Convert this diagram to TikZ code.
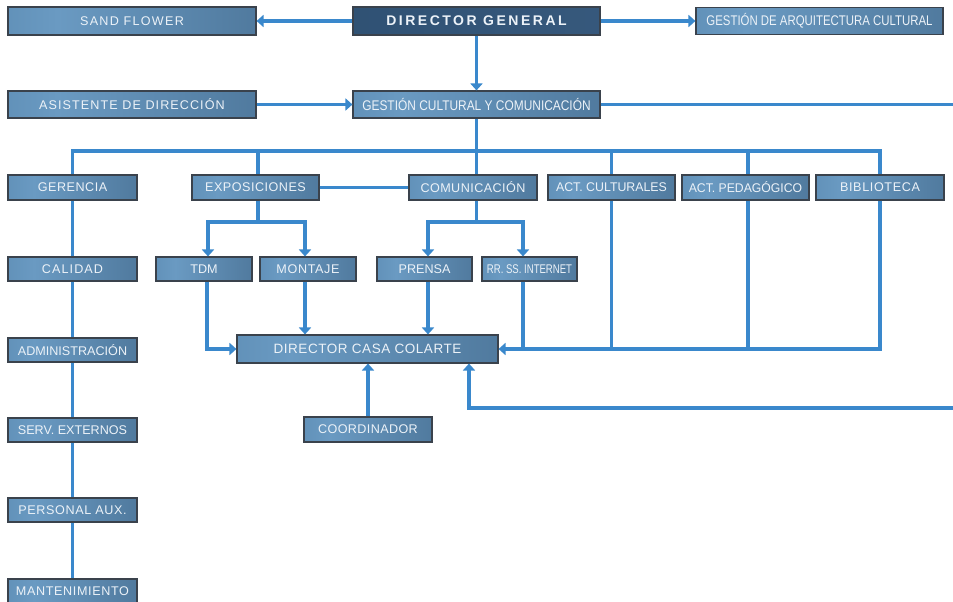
\documentclass[tikz,border=0pt]{standalone}
\usepackage{fontspec}
\setmainfont{Liberation Sans}
\newfontfamily\boxfont{Liberation Sans}
\usetikzlibrary{arrows.meta}

\definecolor{bxL}{RGB}{78,125,164}
\definecolor{bxM}{RGB}{106,154,194}
\definecolor{bxR}{RGB}{64,102,136}
\definecolor{dgL}{RGB}{44,78,112}
\definecolor{dgR}{RGB}{58,92,128}
\definecolor{bxborder}{RGB}{58,66,76}
\definecolor{bxtext}{RGB}{236,242,248}
\definecolor{conncol}{RGB}{58,136,204}

\pgfdeclarehorizontalshading{boxshade}{100bp}{color(0bp)=(bxL); color(35bp)=(bxM); color(100bp)=(bxR)}
\pgfdeclarehorizontalshading{dgshade}{100bp}{color(0bp)=(dgL); color(100bp)=(dgR)}

\tikzset{
  box/.style={draw=bxborder, line width=1.1pt, shading=boxshade, text=bxtext,
    inner sep=0pt, minimum height=25pt,
    font=\boxfont\fontsize{12.6}{14}\selectfont},
  trk/.style={font=\boxfont\addfontfeature{LetterSpace=#1}\fontsize{12.6}{14}\selectfont},
  sqz/.style={font=\boxfont\addfontfeature{FakeStretch=#1}\fontsize{12.6}{14}\selectfont},
  bigsqz/.style={font=\boxfont\addfontfeature{FakeStretch=#1}\fontsize{14}{16}\selectfont},
  topbox/.style={box, shading=dgshade,
    font=\boxfont\addfontfeature{LetterSpace=18}\fontsize{14}{16}\selectfont\bfseries},
  conn/.style={draw=conncol, line width=3.4pt},
  arr/.style={-{Triangle[width=12pt,length=7pt]}},
}

\begin{document}
\begin{tikzpicture}[x=1pt, y=-1pt]
\useasboundingbox (0,0) rectangle (953,602);
\fill[white] (0,0) rectangle (953,602);
\clip (0,0) rectangle (953,602);

% ---- boxes ----
\node[topbox, minimum width=247pt, minimum height=28pt] (dg)   at (476.5,21)  {DIRECTOR GENERAL};
\node[box, trk=10, minimum width=248pt, minimum height=28pt] (sand) at (132,21)  {SAND FLOWER};
\node[box, bigsqz=0.815, minimum width=247pt, minimum height=27pt] (gaq) at (819.5,21) {GESTIÓN DE ARQUITECTURA CULTURAL};
\node[box, trk=8.5, minimum width=248pt, minimum height=27pt] (asis) at (132,104.5) {ASISTENTE DE DIRECCIÓN};
\node[box, bigsqz=0.852, minimum width=247pt, minimum height=27pt] (gcc) at (476.5,104.5) {GESTIÓN CULTURAL Y COMUNICACIÓN};

\node[box, trk=4,   minimum width=129pt] (ger)  at (72.5,187.5)  {GERENCIA};
\node[box, trk=4,   minimum width=127pt] (expo) at (255.5,187.5) {EXPOSICIONES};
\node[box, trk=3.5, minimum width=128pt] (com)  at (473,187.5)   {COMUNICACIÓN};
\node[box, sqz=0.98, minimum width=127pt] (actc) at (611.5,187.5) {ACT. CULTURALES};
\node[box, sqz=0.97, minimum width=127pt] (actp) at (745.5,187.5) {ACT. PEDAGÓGICO};
\node[box, trk=5,   minimum width=128pt] (bib)  at (880,187.5)   {BIBLIOTECA};

\node[box, trk=8.5, minimum width=129pt, minimum height=24pt] (cal)  at (72.5,269) {CALIDAD};
\node[box, trk=0,   minimum width=96pt,  minimum height=24pt] (tdm)  at (204,269)  {TDM};
\node[box, trk=5,   minimum width=96pt,  minimum height=24pt] (mon)  at (308,269)  {MONTAJE};
\node[box, trk=0,   minimum width=95pt,  minimum height=24pt] (pre)  at (424.5,269) {PRENSA};
\node[box, sqz=0.76, minimum width=95pt, minimum height=24pt] (rrss) at (529.5,269) {RR. SS. INTERNET};

\node[box, trk=0, minimum width=129pt, minimum height=24pt] (adm)  at (72.5,350) {ADMINISTRACIÓN};
\node[box, trk=0, minimum width=129pt, minimum height=24pt] (serv) at (72.5,430) {SERV. EXTERNOS};
\node[box, trk=5, minimum width=129pt, minimum height=24pt] (pers) at (72.5,510) {PERSONAL AUX.};
\node[box, trk=5, minimum width=129pt, minimum height=24pt] (mant) at (72.5,591) {MANTENIMIENTO};

\node[box, font=\boxfont\addfontfeature{LetterSpace=4}\fontsize{13.5}{15}\selectfont,
      minimum width=261pt, minimum height=28pt] (dcc)   at (367.5,349) {DIRECTOR CASA COLARTE};
\node[box, trk=3,  minimum width=128pt] (coord) at (368,429.5) {COORDINADOR};

% ---- helper points ----
\coordinate (busY)  at (0,151);
\coordinate (splY)  at (0,222);
\coordinate (loopA) at (962,104.5);
\coordinate (loopB) at (962,408);
\coordinate (loopC) at (469,408);

% ---- top level ----
\draw[conn, arr] (dg.west) -- (sand.east);
\draw[conn, arr] (dg.east) -- (gaq.west);
\draw[conn, arr] (dg.south) -- (gcc.north);
\draw[conn, arr] (asis.east) -- (gcc.west);

% ---- distribution bus ----
\draw[conn] (gcc.south) -- (gcc.south |- com.north);
\draw[conn] (ger.north) -- (ger.north |- busY) -- (bib.north |- busY) -- (bib.north);
\draw[conn] ([xshift=2.5pt]expo.north |- busY) -- ([xshift=2.5pt]expo.north);
\draw[conn] (actc.north |- busY) -- (actc.north);
\draw[conn] ([xshift=2.5pt]actp.north |- busY) -- ([xshift=2.5pt]actp.north);
\draw[conn] (expo.east) -- (com.west);

% ---- left column ----
\draw[conn] (ger.south) -- (cal.north);
\draw[conn] (cal.south) -- (adm.north);
\draw[conn] (adm.south) -- (serv.north);
\draw[conn] (serv.south) -- (pers.north);
\draw[conn] (pers.south) -- (mant.north);

% ---- exposiciones / comunicación branches ----
\draw[conn, arr] ([xshift=2.5pt]expo.south) -- ([xshift=2.5pt]expo.south |- splY) -| ([xshift=4pt]tdm.north);
\draw[conn, arr] ([xshift=2.5pt]expo.south) -- ([xshift=2.5pt]expo.south |- splY) -| ([xshift=-3pt]mon.north);
\draw[conn, arr] ([xshift=3.5pt]com.south) -- ([xshift=3.5pt]com.south |- splY) -| ([xshift=3.5pt]pre.north);
\draw[conn, arr] ([xshift=3.5pt]com.south) -- ([xshift=3.5pt]com.south |- splY) -| ([xshift=-6.5pt]rrss.north);

% ---- into director casa colarte ----
\draw[conn, arr] ([xshift=3pt]tdm.south) |- (dcc.west);
\draw[conn, arr] ([xshift=-3pt]mon.south) -- ([xshift=-3pt]mon.south |- dcc.north);
\draw[conn, arr] ([xshift=3.5pt]pre.south) -- ([xshift=3.5pt]pre.south |- dcc.north);
\draw[conn, arr] (bib.south) |- (dcc.east);
\draw[conn] ([xshift=-6.5pt]rrss.south) -- ([xshift=-6.5pt]rrss.south |- dcc.east);
\draw[conn] (actc.south) -- (actc.south |- dcc.east);
\draw[conn] ([xshift=2.5pt]actp.south) -- ([xshift=2.5pt]actp.south |- dcc.east);
\draw[conn, arr] (coord.north) -- (coord.north |- dcc.south);
\draw[conn, arr] (gcc.east) -- (loopA) -- (loopB) -- (loopC) -- (loopC |- dcc.south);
\end{tikzpicture}
\end{document}
